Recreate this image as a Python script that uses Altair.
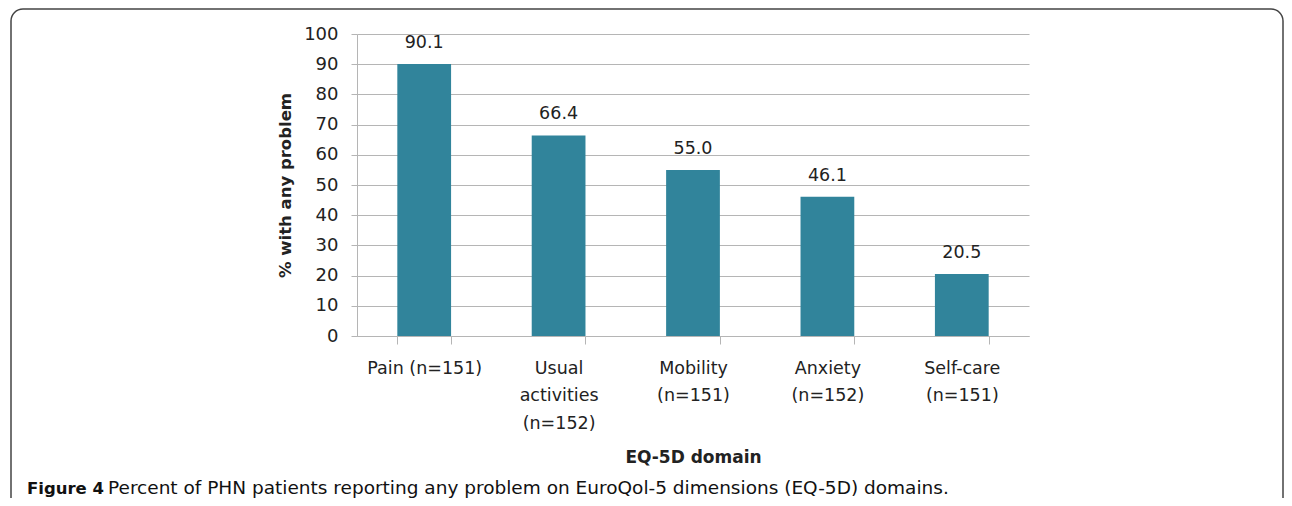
import altair as alt
import pandas as pd

domains = ["Pain (n=151)", "Usual|activities|(n=152)", "Mobility|(n=151)", "Anxiety|(n=152)", "Self-care|(n=151)"]
percents = [90.1, 66.4, 55.0, 46.1, 20.5]
y_ticks = [0, 10, 20, 30, 40, 50, 60, 70, 80, 90, 100]
caption_bold = "Figure 4"
caption_text = "Percent of PHN patients reporting any problem on EuroQol-5 dimensions (EQ-5D) domains."

df = pd.DataFrame({"domain": domains, "pct": percents})

FONT = "DejaVu Sans"
BAR = "#31849B"
GRID = "#b5b5b5"
TXT = "#222222"

x_enc = alt.X(
    "domain:N", sort=domains,
    scale=alt.Scale(paddingInner=0.6, paddingOuter=0.3),
    axis=alt.Axis(
        title="EQ-5D domain", labelExpr="split(datum.label, '|')", labelAngle=0,
        labelFont=FONT, labelFontSize=17.5, labelColor=TXT, labelLineHeight=27.5,
        labelPadding=15, tickBand="extent", tickSize=8, tickColor=GRID,
        domainColor=GRID, domainWidth=1, grid=False,
        titleFont=FONT, titleFontSize=17, titleFontWeight="bold", titleColor=TXT,
        titleY=126, titleBaseline="alphabetic",
    ),
)
y_enc = alt.Y(
    "pct:Q",
    scale=alt.Scale(domain=[0, 100], nice=False),
    axis=alt.Axis(
        title="% with any problem", values=y_ticks, labelOverlap=False,
        labelFont=FONT, labelFontSize=18,
        labelColor=TXT, labelPadding=13, tickSize=6, tickColor=GRID, domainColor=GRID,
        gridColor=GRID, grid=True,
        titleFont=FONT, titleFontSize=16.5, titleFontWeight="bold", titleColor=TXT,
        titleX=-72, titleY=151, titleAngle=-90, titleAlign="center", titleBaseline="middle",
    ),
)

bars = alt.Chart(df).mark_bar(color=BAR).encode(x=x_enc, y=y_enc)
labels = alt.Chart(df).mark_text(
    font=FONT, fontSize=17.5, color=TXT, baseline="alphabetic", dy=-16
).encode(x=x_enc, y=y_enc, text=alt.Text("pct:Q", format=".1f"))

one = alt.Data(values=[{"k": 1}])
border = alt.Chart(one).mark_rect(
    filled=False, stroke="#444444", strokeWidth=1.5, cornerRadius=12
).encode(x=alt.value(-346), x2=alt.value(926), y=alt.value(-25), y2=alt.value(540))

cap1 = alt.Chart(alt.Data(values=[{"t": caption_bold}])).mark_text(
    font=FONT, fontSize=16.5, fontWeight="bold", color="#111111", align="left", baseline="alphabetic"
).encode(x=alt.value(-330), y=alt.value(460), text="t:N")
cap2 = alt.Chart(alt.Data(values=[{"t": caption_text}])).mark_text(
    font=FONT, fontSize=18.5, color="#111111", align="left", baseline="alphabetic"
).encode(x=alt.value(-249), y=alt.value(460), text="t:N")

chart = alt.layer(border, bars, labels, cap1, cap2).properties(
    width=672, height=302,
    autosize=alt.AutoSizeParams(type="none"),
    padding={"left": 349, "top": 26, "right": 255, "bottom": 162},
).configure_view(stroke=None)

chart.save("out.html", embed_options={"renderer": "svg", "actions": False})
